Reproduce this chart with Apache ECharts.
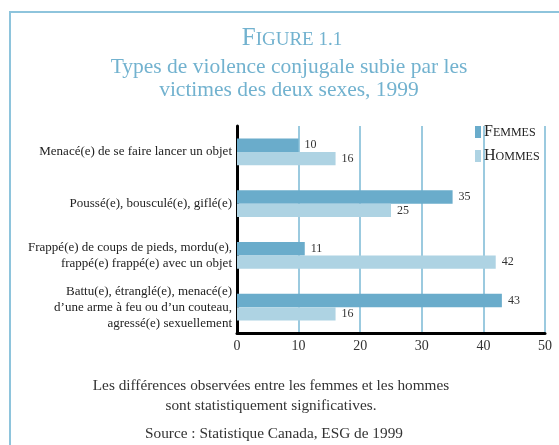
<!DOCTYPE html>
<html>
<head>
<meta charset="utf-8">
<script src="https://cdn.jsdelivr.net/npm/echarts@6/dist/echarts.min.js"></script>
<style>
  html, body { margin: 0; padding: 0; background: #fff; }
  #chart { width: 559px; height: 445px; }
</style>
</head>
<body>
<div id="chart"></div>
<script>
const categories = [
    'Menacé(e) de se faire lancer un objet',
    'Poussé(e), bousculé(e), giflé(e)',
    'Frappé(e) de coups de pieds, mordu(e),\nfrappé(e) frappé(e) avec un objet',
    'Battu(e), étranglé(e), menacé(e)\nd’une arme à feu ou d’un couteau,\nagressé(e) sexuellement'
]
const femmes = [10, 35, 11, 43]
const hommes = [16, 25, 42, 16]
const xTicks = [0, 10, 20, 30, 40, 50]

const serif = '"Liberation Serif", "DejaVu Serif", serif'
const bleu = '#6aaccb'
const bleuClair = '#aed3e3'
const titreCouleur = '#72b2cf'

const chart = echarts.init(document.getElementById('chart'))

let option = {
    backgroundColor: '#fff',
    animation: false,
    textStyle: { fontFamily: serif },
    graphic: [
        {
            type: 'rect',
            shape: { x: 10, y: 12, width: 600, height: 500 },
            style: { fill: 'none', stroke: '#8ec4dc', lineWidth: 2 }
        },
        {
            type: 'text', x: 292, y: 26,
            style: {
                text: '{a|F}{b|IGURE 1.1}',
                textAlign: 'center',
                rich: {
                    a: { fontFamily: serif, fontSize: 25, fill: titreCouleur, color: titreCouleur },
                    b: { fontFamily: serif, fontSize: 19, fill: titreCouleur, color: titreCouleur, verticalAlign: 'bottom', padding: [0, 0, 1, 0] }
                }
            }
        },
        {
            type: 'text', x: 289, y: 56,
            style: {
                text: 'Types de violence conjugale subie par les\nvictimes des deux sexes, 1999',
                textAlign: 'center',
                fontFamily: serif, fontSize: 21.5, lineHeight: 23, fill: titreCouleur
            }
        },
        {
            type: 'text', x: 271, y: 376,
            style: {
                text: 'Les différences observées entre les femmes et les hommes\nsont statistiquement significatives.',
                textAlign: 'center',
                fontFamily: serif, fontSize: 15.3, lineHeight: 20, fill: '#333'
            }
        },
        {
            type: 'text', x: 274, y: 426,
            style: {
                text: 'Source : Statistique Canada, ESG de 1999',
                textAlign: 'center',
                fontFamily: serif, fontSize: 15.3, fill: '#333'
            }
        }
    ],
    legend: {
        orient: 'vertical',
        left: 470,
        top: 119,
        itemWidth: 6,
        itemHeight: 12,
        itemGap: 8,
        icon: 'rect',
        data: ['Femmes', 'Hommes'],
        formatter: function (nom) {
            return '{a|' + nom.charAt(0) + '}{b|' + nom.substring(1).toUpperCase() + '}'
        },
        textStyle: {
            padding: [0, 0, 0, -2],
            rich: {
                a: { fontFamily: serif, fontSize: 16, color: '#222' },
                b: { fontFamily: serif, fontSize: 12, color: '#222', verticalAlign: 'bottom', padding: [0, 0, 1, 0] }
            }
        }
    },
    grid: {
        left: 237,
        right: 14,
        top: 126,
        height: 207,
        containLabel: false
    },
    xAxis: {
        type: 'value',
        min: 0,
        max: 50,
        interval: 10,
        axisLine: { show: true, lineStyle: { color: '#000', width: 3 } },
        axisTick: { show: false },
        splitLine: { show: true, lineStyle: { color: '#7ab8d4', width: 1.5 } },
        axisLabel: {
            fontFamily: serif, fontSize: 14, color: '#333', margin: 6,
            formatter: function (v) { return xTicks.indexOf(v) >= 0 ? String(v) : '' }
        }
    },
    yAxis: {
        type: 'category',
        inverse: true,
        data: categories,
        axisLine: { show: true, lineStyle: { color: '#000', width: 3 } },
        axisTick: { show: false },
        axisLabel: {
            fontFamily: serif, fontSize: 13, lineHeight: 16, color: '#222',
            margin: 5, align: 'right'
        }
    },
    series: [
        {
            name: 'Femmes',
            type: 'bar',
            data: femmes,
            barGap: '0%',
            barCategoryGap: '48%',
            itemStyle: { color: bleu },
            label: {
                show: true, position: 'right', distance: 6,
                fontFamily: serif, fontSize: 12, color: '#333'
            }
        },
        {
            name: 'Hommes',
            type: 'bar',
            data: hommes,
            itemStyle: { color: bleuClair },
            label: {
                show: true, position: 'right', distance: 6,
                fontFamily: serif, fontSize: 12, color: '#333'
            }
        }
    ]
}

chart.setOption(option)
</script>
</body>
</html>
